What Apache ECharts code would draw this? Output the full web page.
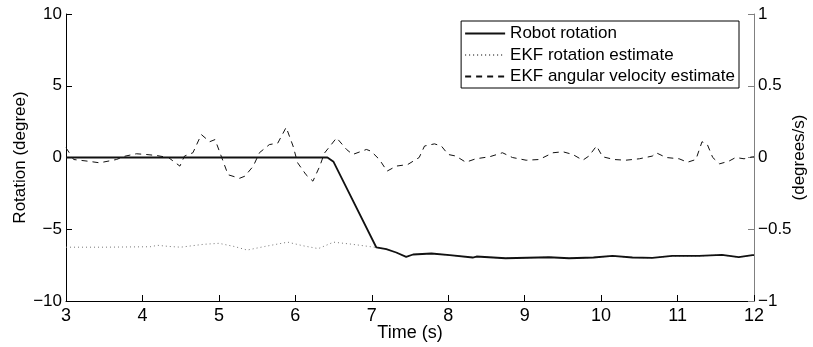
<!DOCTYPE html>
<html>
<head>
<meta charset="utf-8">
<script src="https://cdn.jsdelivr.net/npm/echarts@6/dist/echarts.min.js"></script>
<style>
html,body{margin:0;padding:0;background:#fff;}
#chart{width:813px;height:347px;}
</style>
</head>
<body>
<div id="chart"></div>
<script>
// ---- data ----
var seriesNames = ['Robot rotation', 'EKF rotation estimate', 'EKF angular velocity estimate'];
var xTicks = [3, 4, 5, 6, 7, 8, 9, 10, 11, 12];
var leftTicks = [-10, -5, 0, 5, 10];
var rightTicks = [-1, -0.5, 0, 0.5, 1];

var robotTime = [3.0, 6.42, 6.5, 7.06, 7.19, 7.32, 7.45, 7.54, 7.78, 8.02, 8.32, 8.37, 8.75, 9.32, 9.58, 9.9, 10.15, 10.41, 10.67, 10.93, 11.28, 11.58, 11.8, 11.98, 12.0];
var robotRotation = [0, 0, -0.3, -6.27, -6.39, -6.62, -6.93, -6.76, -6.69, -6.81, -6.97, -6.9, -7.02, -6.95, -7.02, -6.97, -6.86, -6.97, -6.99, -6.86, -6.86, -6.79, -6.95, -6.81, -6.81];

var ekfRotTime = [3.0, 3.5, 4.1, 4.2, 4.35, 4.5, 4.8, 5.0, 5.2, 5.37, 5.6, 5.9, 6.1, 6.3, 6.5, 6.75, 7.06, 7.19, 7.32, 7.45, 7.54, 7.78, 8.02, 8.32, 8.37, 8.75, 9.32, 9.58, 9.9, 10.15, 10.41, 10.67, 10.93, 11.28, 11.58, 11.8, 11.98, 12.0];
var ekfRotation = [-6.25, -6.25, -6.22, -6.12, -6.2, -6.25, -6.05, -5.98, -6.2, -6.45, -6.2, -5.9, -6.15, -6.35, -5.9, -6.05, -6.27, -6.39, -6.62, -6.93, -6.76, -6.69, -6.81, -6.97, -6.9, -7.02, -6.95, -7.02, -6.97, -6.86, -6.97, -6.99, -6.86, -6.86, -6.79, -6.95, -6.81, -6.81];

var ekfVelTime = [3.0, 3.1, 3.29, 3.44, 3.66, 3.77, 3.92, 4.05, 4.18, 4.34, 4.49, 4.55, 4.66, 4.77, 4.88, 4.95, 5.03, 5.12, 5.27, 5.34, 5.45, 5.53, 5.66, 5.77, 5.88, 5.97, 6.03, 6.14, 6.23, 6.32, 6.38, 6.54, 6.67, 6.75, 6.93, 6.99, 7.1, 7.2, 7.32, 7.47, 7.62, 7.69, 7.82, 7.91, 8.0, 8.1, 8.23, 8.36, 8.54, 8.71, 8.84, 9.02, 9.19, 9.37, 9.5, 9.63, 9.76, 9.84, 9.94, 10.02, 10.17, 10.32, 10.5, 10.67, 10.72, 10.85, 11.02, 11.13, 11.24, 11.32, 11.39, 11.46, 11.55, 11.67, 11.76, 11.87, 11.98, 12.0];
var ekfVelocity = [0.068, -0.014, -0.026, -0.037, -0.014, 0.009, 0.026, 0.021, 0.014, 0.0, -0.06, 0.01, 0.033, 0.16, 0.11, 0.125, 0.01, -0.12, -0.145, -0.13, -0.06, 0.033, 0.09, 0.1, 0.21, 0.08, -0.037, -0.12, -0.165, -0.06, 0.03, 0.137, 0.056, 0.021, 0.056, 0.044, -0.014, -0.095, -0.06, -0.049, 0.0, 0.08, 0.095, 0.08, 0.021, 0.01, -0.033, -0.009, 0.005, 0.033, 0.0, -0.019, -0.014, 0.033, 0.04, 0.021, -0.019, 0.01, 0.08, 0.005, -0.014, -0.019, -0.009, 0.01, 0.033, 0.0, -0.009, -0.033, -0.014, 0.11, 0.09, 0.0, -0.044, -0.026, 0.0, -0.009, 0.005, 0.005];

function pairs(xs, ys) { return xs.map(function (x, i) { return [x, ys[i]]; }); }
function fmtNum(v) { return String(v).replace('-', '\u2212'); }

var FONT = 'Liberation Sans, Arial, sans-serif';
var chart = echarts.init(document.getElementById('chart'), null, {renderer: 'canvas'});
chart.setOption({
  animation: false,
  backgroundColor: '#fff',
  textStyle: {fontFamily: FONT, color: '#000'},
  grid: {left: 66, right: 59, top: 14, bottom: 46, containLabel: false, outerBoundsMode: 'none'},
  legend: {
    orient: 'vertical',
    right: 74,
    top: 21,
    width: 280,
    padding: [4, 4, 3, 3],
    itemWidth: 40,
    itemHeight: 14,
    itemGap: 4.5,
    backgroundColor: '#fff',
    borderColor: '#000',
    borderWidth: 1,
    borderRadius: 0,
    itemStyle: {opacity: 0},
    textStyle: {fontFamily: FONT, fontSize: 17, color: '#000'},
    data: seriesNames
  },
  xAxis: {
    type: 'value',
    min: xTicks[0], max: xTicks[xTicks.length - 1], interval: 1,
    name: 'Time (s)', nameLocation: 'middle', nameGap: 23, nameMoveOverlap: false,
    nameTextStyle: {fontFamily: FONT, fontSize: 18, color: '#000'},
    axisLine: {show: true, onZero: false, lineStyle: {color: '#000', width: 1}},
    axisTick: {show: true, inside: true, length: 6, lineStyle: {color: '#000'}},
    axisLabel: {fontFamily: FONT, fontSize: 18, color: '#000', margin: 6},
    splitLine: {show: false}
  },
  yAxis: [{
    type: 'value', position: 'left',
    min: leftTicks[0], max: leftTicks[leftTicks.length - 1], interval: 5,
    name: 'Rotation (degree)', nameLocation: 'middle', nameGap: 37, nameRotate: 90, nameMoveOverlap: false,
    nameTextStyle: {fontFamily: FONT, fontSize: 17, color: '#000'},
    axisLine: {show: true, onZero: false, lineStyle: {color: '#000', width: 1}},
    axisTick: {show: true, inside: true, length: 6, lineStyle: {color: '#000'}},
    axisLabel: {fontFamily: FONT, fontSize: 17, color: '#000', margin: 4, formatter: fmtNum},
    splitLine: {show: false}
  }, {
    type: 'value', position: 'right',
    min: rightTicks[0], max: rightTicks[rightTicks.length - 1], interval: 0.5,
    name: '(degrees/s)', nameLocation: 'middle', nameGap: 37, nameRotate: 90, nameMoveOverlap: false,
    nameTextStyle: {fontFamily: FONT, fontSize: 17, color: '#000'},
    axisLine: {show: true, onZero: false, lineStyle: {color: '#808080', width: 1}},
    axisTick: {show: true, inside: true, length: 6, lineStyle: {color: '#808080'}},
    axisLabel: {fontFamily: FONT, fontSize: 17, color: '#000', margin: 4, formatter: fmtNum},
    splitLine: {show: false}
  }],
  series: [{
    name: seriesNames[0], type: 'line', yAxisIndex: 0, symbol: 'none', z: 3,
    lineStyle: {color: '#111', width: 1.8, type: 'solid'},
    itemStyle: {color: '#111'},
    data: pairs(robotTime, robotRotation)
  }, {
    name: seriesNames[1], type: 'line', yAxisIndex: 0, symbol: 'none', z: 2,
    lineStyle: {color: '#777', width: 1, type: [1, 3]},
    itemStyle: {color: '#777'},
    data: pairs(ekfRotTime, ekfRotation)
  }, {
    name: seriesNames[2], type: 'line', yAxisIndex: 1, symbol: 'none', z: 4,
    lineStyle: {color: '#111', width: 1, type: [6, 5]},
    itemStyle: {color: '#111'},
    data: pairs(ekfVelTime, ekfVelocity)
  }]
});
</script>
</body>
</html>
